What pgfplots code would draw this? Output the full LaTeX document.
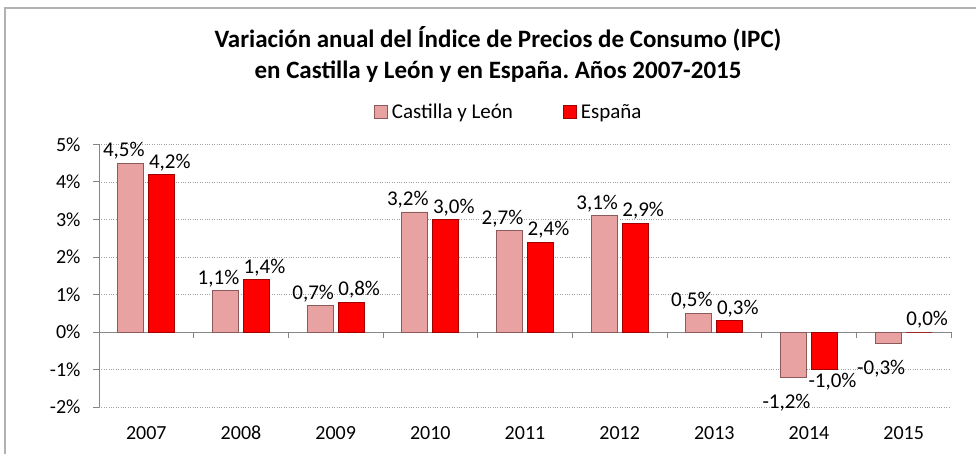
\documentclass[border=0pt]{standalone}
\usepackage{fontspec}
\setmainfont{Carlito}
\usepackage{pgfplots}
\pgfplotsset{compat=1.18}
\frenchspacing
\definecolor{cyl}{HTML}{E8A2A2}
\definecolor{cyldark}{HTML}{8C5A5A}
\definecolor{esp}{HTML}{FF0000}
\definecolor{espdark}{HTML}{A00000}
\definecolor{axisgray}{HTML}{868686}
\definecolor{gridgray}{HTML}{A0A0A0}
\begin{document}
\begin{tikzpicture}
\useasboundingbox (0pt,0pt) rectangle (976pt,-454pt);
\draw[color=gray!60, line width=1.5pt] (5pt,-454pt) -- (5pt,-8pt) -- (976pt,-8pt);
\node[align=center, font=\fontsize{25}{31}\selectfont\bfseries] at (498pt,-54pt) {Variación anual del Índice de Precios de Consumo (IPC)\\en Castilla y León y en España. Años 2007-2015};
\begin{axis}[
  at={(99pt,-407pt)}, anchor=south west, scale only axis,
  width=852pt, height=262.5pt,
  clip=false,
  ybar=5pt, bar width=26pt,
  xmin=-0.5, xmax=8.5, ymin=-2, ymax=5,
  xtick={0,1,2,3,4,5,6,7,8},
  xticklabels={2007,2008,2009,2010,2011,2012,2013,2014,2015},
  ytick={-2,-1,0,1,2,3,4,5},
  yticklabel={\pgfmathprintnumber{\tick}\%},
  /pgf/number format/assume math mode=true,
  axis y line*=left, axis x line*=bottom,
  x axis line style={draw=none}, xtick style={draw=none},
  y axis line style={axisgray, line width=1pt},
  ytick style={axisgray, line width=1pt},
  tick align=outside, major tick length=6pt,
  ymajorgrids, grid style={gridgray, dotted, line width=0.8pt},
  extra y ticks={0}, extra y tick labels={},
  extra y tick style={grid=major, major grid style={axisgray, solid, line width=1pt}},
  tick label style={font=\fontsize{20}{20}\selectfont, black},
  xticklabel style={yshift=-10pt, anchor=north, text height=13pt, text depth=0pt},
  yticklabel style={xshift=-9pt},
  nodes near coords={\pgfmathprintnumber[fixed,fixed zerofill,precision=1,use comma]{\pgfplotspointmeta}\%},
  nodes near coords align={vertical},
  every node near coord/.append style={font=\fontsize{21}{21}\selectfont, black},
  legend style={at={(0.481,1.124)}, anchor=center, draw=none, fill=none,
    legend columns=2, font=\fontsize{21}{21}\selectfont,
    /tikz/every odd column/.append style={column sep=2pt},
    /tikz/every even column/.append style={column sep=48pt}},
  sqlegend/.style={legend image code/.code={\draw[##1, bar shift=0pt] (0pt,-6.5pt) rectangle (13pt,6.5pt);}},
]
\addplot[fill=cyl, draw=cyldark, line width=0.8pt, sqlegend,
  every node near coord/.append style={xshift=-7pt, yshift={(\coordindex>6)*(-13)}}]
  coordinates {(0,4.5) (1,1.1) (2,0.7) (3,3.2) (4,2.7) (5,3.1) (6,0.5) (7,-1.2) (8,-0.3)};
\addlegendentry{Castilla y León}
\addplot[fill=esp, draw=espdark, line width=0.8pt, sqlegend,
  every node near coord/.append style={xshift=8pt}]
  coordinates {(0,4.2) (1,1.4) (2,0.8) (3,3.0) (4,2.4) (5,2.9) (6,0.3) (7,-1.0) (8,0.0)};
\addlegendentry{España}
\pgfplotsinvokeforeach{-0.5,0.5,1.5,2.5,3.5,4.5,5.5,6.5,7.5,8.5}{
  \draw[axisgray, line width=1pt] (axis cs:#1,0) -- ([yshift=-6pt]axis cs:#1,0);
}
\end{axis}
\end{tikzpicture}
\end{document}
